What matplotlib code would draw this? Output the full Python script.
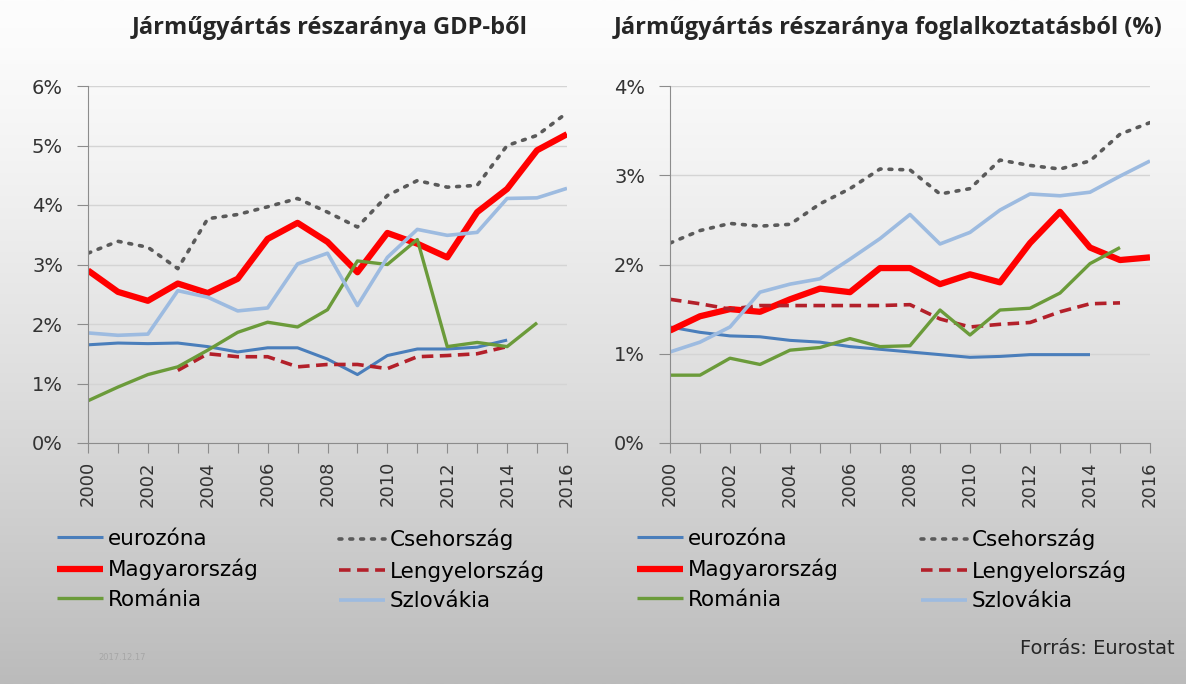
import numpy as np
import matplotlib
matplotlib.use("Agg")
import matplotlib.pyplot as plt
from matplotlib.ticker import FuncFormatter

# years on the x axis
years = list(range(2000, 2017))

# vehicle manufacturing share of GDP (%)
euro_gdp = [1.65, 1.68, 1.67, 1.68, 1.62, 1.53, 1.60, 1.60, 1.41, 1.15, 1.47, 1.58, 1.58, 1.61, 1.73]
cz_gdp = [3.19, 3.39, 3.29, 2.93, 3.77, 3.84, 3.97, 4.11, 3.88, 3.63, 4.16, 4.41, 4.30, 4.33, 5.00, 5.17, 5.55]
hu_gdp = [2.90, 2.54, 2.39, 2.68, 2.52, 2.76, 3.43, 3.70, 3.38, 2.87, 3.53, 3.35, 3.12, 3.88, 4.27, 4.92, 5.19]
pl_gdp_years = list(range(2003, 2015))
pl_gdp = [1.22, 1.50, 1.45, 1.45, 1.28, 1.32, 1.32, 1.25, 1.45, 1.47, 1.50, 1.62]
ro_gdp = [0.71, 0.94, 1.15, 1.28, 1.56, 1.86, 2.03, 1.95, 2.24, 3.06, 3.00, 3.42, 1.62, 1.69, 1.62, 2.02]
sk_gdp = [1.85, 1.81, 1.83, 2.56, 2.45, 2.22, 2.27, 3.01, 3.19, 2.31, 3.12, 3.59, 3.49, 3.54, 4.11, 4.12, 4.28]

# vehicle manufacturing share of employment (%)
euro_emp = [1.30, 1.24, 1.20, 1.19, 1.15, 1.13, 1.08, 1.05, 1.02, 0.99, 0.96, 0.97, 0.99, 0.99, 0.99]
cz_emp = [2.24, 2.38, 2.46, 2.43, 2.45, 2.68, 2.85, 3.07, 3.06, 2.79, 2.85, 3.17, 3.11, 3.07, 3.16, 3.46, 3.59]
hu_emp = [1.26, 1.42, 1.50, 1.47, 1.61, 1.73, 1.69, 1.96, 1.96, 1.78, 1.89, 1.80, 2.24, 2.59, 2.19, 2.05, 2.08]
pl_emp = [1.61, 1.56, 1.50, 1.54, 1.54, 1.54, 1.54, 1.54, 1.55, 1.39, 1.30, 1.33, 1.35, 1.47, 1.56, 1.57]
ro_emp = [0.76, 0.76, 0.95, 0.88, 1.04, 1.07, 1.17, 1.08, 1.09, 1.49, 1.21, 1.49, 1.51, 1.68, 2.01, 2.19]
sk_emp = [1.02, 1.13, 1.30, 1.69, 1.78, 1.84, 2.06, 2.29, 2.56, 2.23, 2.36, 2.61, 2.79, 2.77, 2.81, 2.99, 3.16]

names = ["eurozóna", "Csehország", "Magyarország", "Lengyelország", "Románia", "Szlovákia"]
titles = ["Járműgyártás részaránya GDP-ből", "Járműgyártás részaránya foglalkoztatásból (%)"]

styles = {
    "eurozóna": dict(color="#4a7ebb", lw=2.2),
    "Csehország": dict(color="#5a5a5a", lw=2.6, linestyle=(0, (0.8, 2.2)), dash_capstyle="round"),
    "Magyarország": dict(color="#ff0000", lw=4.5),
    "Lengyelország": dict(color="#b3202a", lw=2.6, linestyle=(0, (3.2, 1.8))),
    "Románia": dict(color="#6b9b3a", lw=2.4),
    "Szlovákia": dict(color="#9dbbe0", lw=2.6),
}

W, H = 1186, 684
fig = plt.figure(figsize=(W / 100, H / 100), dpi=100)

# gradient background
bg = fig.add_axes([0, 0, 1, 1], zorder=-10)
bg.axis("off")
t = np.linspace(0, 1, 300)[:, None]
shade = (253 - 66 * t ** 1.3) / 255
bg.imshow(np.dstack([shade, shade, shade]), aspect="auto", extent=[0, 1, 0, 1])
bg.set_xlim(0, 1)
bg.set_ylim(0, 1)

ax1 = fig.add_axes([88 / W, 241 / H, 479 / W, 357 / H])
ax2 = fig.add_axes([670 / W, 241 / H, 480 / W, 357 / H])

panels = [
    (ax1, [
        (years[:len(euro_gdp)], euro_gdp),
        (years, cz_gdp),
        (years, hu_gdp),
        (pl_gdp_years, pl_gdp),
        (years[:len(ro_gdp)], ro_gdp),
        (years, sk_gdp),
    ], 6),
    (ax2, [
        (years[:len(euro_emp)], euro_emp),
        (years, cz_emp),
        (years, hu_emp),
        (years[:len(pl_emp)], pl_emp),
        (years[:len(ro_emp)], ro_emp),
        (years, sk_emp),
    ], 4),
]

for ax, series, ymax in panels:
    ax.set_facecolor("none")
    lines = []
    for name, (x, y) in zip(names, series):
        ln, = ax.plot(x, y, label=name, solid_capstyle="butt", **styles[name])
        lines.append(ln)
    ax.set_xlim(2000, 2016)
    ax.set_ylim(0, ymax)
    ax.set_yticks(range(0, ymax + 1))
    ax.yaxis.set_major_formatter(FuncFormatter(lambda v, p: f"{int(v)}%"))
    ax.set_xticks(years)
    ax.set_xticklabels([str(y) if y % 2 == 0 else "" for y in years], rotation=90)
    ax.grid(axis="y", color="#d4d4d4", lw=1)
    ax.set_axisbelow(True)
    for s in ["top", "right"]:
        ax.spines[s].set_visible(False)
    for s in ["left", "bottom"]:
        ax.spines[s].set_color("#8c8c8c")
    ax.tick_params(axis="y", length=8, color="#8c8c8c", pad=10, labelsize=14, labelcolor="#333333")
    ax.tick_params(axis="x", length=7, color="#8c8c8c", pad=6, labelsize=13, labelcolor="#333333")
    for lab in ax.get_xticklabels() + ax.get_yticklabels():
        lab.set_family("DejaVu Sans")

    # legend: two columns, three rows
    x0 = 57 if ax is ax1 else 637
    x1 = 339 if ax is ax1 else 921
    common = dict(loc="upper left", frameon=False, fontsize=15.5, handlelength=2.15,
                  handletextpad=0.2, labelspacing=0.45, borderpad=0, borderaxespad=0,
                  bbox_transform=fig.transFigure)
    leg1 = ax.legend([lines[0], lines[2], lines[4]], [names[0], names[2], names[4]],
                     bbox_to_anchor=(x0 / W, 1 - 529 / H), **common)
    ax.add_artist(leg1)
    ax.legend([lines[1], lines[3], lines[5]], [names[1], names[3], names[5]],
              bbox_to_anchor=(x1 / W, 1 - 529 / H), **common)

fig.text(330 / W, 1 - 28 / H, titles[0], ha="center", va="center", fontsize=17,
         fontweight="bold", family="Open Sans", color="#262626")
fig.text(888 / W, 1 - 28 / H, titles[1], ha="center", va="center", fontsize=17,
         fontweight="bold", family="Open Sans", color="#262626")

fig.text(1175 / W, 1 - 648 / H, "Forrás: Eurostat", ha="right", va="center", fontsize=14,
         color="#262626")
fig.text(98 / W, 1 - 657 / H, "2017.12.17", ha="left", va="center", fontsize=6,
         color="#a6a6a6")

fig.savefig("out.png", dpi=100)
